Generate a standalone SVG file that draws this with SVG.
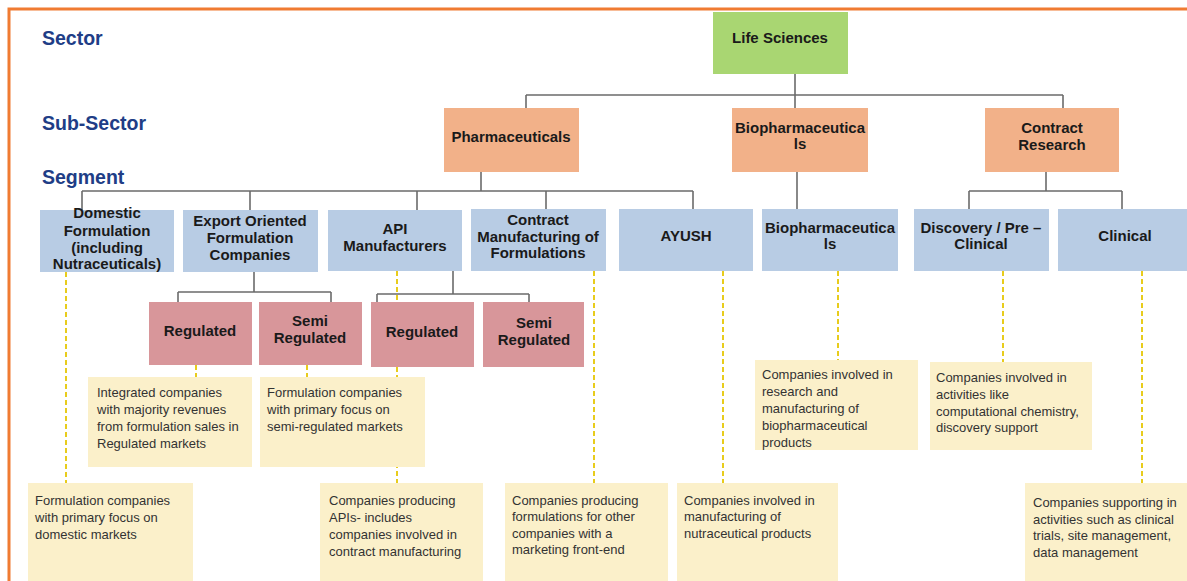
<svg xmlns="http://www.w3.org/2000/svg" width="1187" height="581" viewBox="0 0 1187 581">
<style>
.lbl{font-family:"Liberation Sans",Arial,sans-serif;font-weight:bold;font-size:19.5px;fill:#203D86}
.t{font-family:"Liberation Sans",Arial,sans-serif;font-weight:bold;font-size:15px;fill:#1a1a1a;text-anchor:middle}
.d{font-family:"Liberation Sans",Arial,sans-serif;font-size:13px;fill:#333}
.g{fill:#A9D672}
.p{fill:#F2B189}
.b{fill:#B8CCE4}
.r{fill:#D8969A}
.y{fill:#FBF0CA}
.ln{fill:none;stroke:#6b6b6b;stroke-width:1.6}
.ds{fill:none;stroke:#E8CC1C;stroke-width:2;stroke-dasharray:5 3}
</style>
<rect width="1187" height="581" fill="#fff"/>
<path d="M9,581 V9 H1187" fill="none" stroke="#F07B32" stroke-width="3"/>
<g id="labels">
<text class="lbl" x="42" y="45">Sector</text>
<text class="lbl" x="42" y="130">Sub-Sector</text>
<text class="lbl" x="42" y="184">Segment</text>
</g>
<g id="connectors">
<path class="ln" d="M795,74 V108 M526,95 H1063 M526,95 V108 M1063,95 V108"/>
<path class="ln" d="M481,172 V191 M82,191 H693 M82,191 V210 M250,191 V210 M417,191 V210 M546,191 V209 M693,191 V209"/>
<path class="ln" d="M797,172 V209"/>
<path class="ln" d="M1046,172 V191 M969,191 H1122 M969,191 V209 M1122,191 V209"/>
<path class="ln" d="M254,272 V292 M178,292 H331 M178,292 V302 M331,292 V302"/>
<path class="ln" d="M453,271 V294 M377,294 H529 M377,294 V302 M529,294 V302"/>
<path class="ds" d="M66,272 V483 M196,365 V377 M307,365 V377 M397,271 V483 M594,271 V483 M723,271 V483 M838,271 V360 M1003,271 V362 M1142,271 V483"/>
</g>
<g id="life-sciences"><rect class="g" x="713" y="12" width="135" height="62"/><text class="t" x="780" y="43">Life Sciences</text></g>
<g id="pharmaceuticals"><rect class="p" x="444" y="108" width="135" height="64"/><text class="t" x="511" y="142">Pharmaceuticals</text></g>
<g id="biopharmaceuticals-sub"><rect class="p" x="732" y="108" width="136" height="64"/><text class="t" x="800" y="133">Biopharmaceutica</text><text class="t" x="800" y="149">ls</text></g>
<g id="contract-research"><rect class="p" x="985" y="108" width="134" height="64"/><text class="t" x="1052" y="133">Contract</text><text class="t" x="1052" y="150">Research</text></g>
<g id="domestic"><rect class="b" x="40" y="210" width="134" height="62"/><text class="t" x="107" y="218">Domestic</text><text class="t" x="107" y="236">Formulation</text><text class="t" x="107" y="253">(including</text><text class="t" x="107" y="269">Nutraceuticals)</text></g>
<g id="export"><rect class="b" x="183" y="210" width="135" height="62"/><text class="t" x="250" y="226">Export Oriented</text><text class="t" x="250" y="243">Formulation</text><text class="t" x="250" y="260">Companies</text></g>
<g id="api"><rect class="b" x="328" y="210" width="134" height="61"/><text class="t" x="395" y="234">API</text><text class="t" x="395" y="251">Manufacturers</text></g>
<g id="contract-mfg"><rect class="b" x="471" y="209" width="135" height="62"/><text class="t" x="538" y="225">Contract</text><text class="t" x="538" y="242">Manufacturing of</text><text class="t" x="538" y="258">Formulations</text></g>
<g id="ayush"><rect class="b" x="619" y="209" width="134" height="62"/><text class="t" x="686" y="241">AYUSH</text></g>
<g id="biopharmaceuticals-seg"><rect class="b" x="762" y="209" width="136" height="62"/><text class="t" x="830" y="233">Biopharmaceutica</text><text class="t" x="830" y="249">ls</text></g>
<g id="discovery"><rect class="b" x="914" y="209" width="135" height="62"/><text class="t" x="981" y="233">Discovery / Pre –</text><text class="t" x="981" y="249">Clinical</text></g>
<g id="clinical"><rect class="b" x="1058" y="209" width="135" height="62"/><text class="t" x="1125" y="241">Clinical</text></g>
<g id="regulated-1"><rect class="r" x="149" y="302" width="103" height="63"/><text class="t" x="200" y="336">Regulated</text></g>
<g id="semi-regulated-1"><rect class="r" x="259" y="302" width="103" height="63"/><text class="t" x="310" y="326">Semi</text><text class="t" x="310" y="343">Regulated</text></g>
<g id="regulated-2"><rect class="r" x="371" y="302" width="103" height="65"/><text class="t" x="422" y="337">Regulated</text></g>
<g id="semi-regulated-2"><rect class="r" x="483" y="302" width="101" height="65"/><text class="t" x="534" y="328">Semi</text><text class="t" x="534" y="345">Regulated</text></g>
<g id="desc-regulated"><rect class="y" x="88" y="377" width="164" height="90"/><text class="d" x="97" y="397">Integrated companies</text><text class="d" x="97" y="414">with majority revenues</text><text class="d" x="97" y="431">from formulation sales in</text><text class="d" x="97" y="448">Regulated markets</text></g>
<g id="desc-semi"><rect class="y" x="260" y="377" width="165" height="90"/><text class="d" x="267" y="397">Formulation companies</text><text class="d" x="267" y="414">with primary focus on</text><text class="d" x="267" y="431">semi-regulated markets</text></g>
<g id="desc-domestic"><rect class="y" x="28" y="483" width="165" height="100"/><text class="d" x="35" y="505">Formulation companies</text><text class="d" x="35" y="522">with primary focus on</text><text class="d" x="35" y="539">domestic markets</text></g>
<g id="desc-api"><rect class="y" x="320" y="483" width="163" height="100"/><text class="d" x="329" y="505">Companies producing</text><text class="d" x="329" y="522">APIs- includes</text><text class="d" x="329" y="539">companies involved in</text><text class="d" x="329" y="556">contract manufacturing</text></g>
<g id="desc-contract-mfg"><rect class="y" x="505" y="483" width="163" height="100"/><text class="d" x="512" y="505">Companies producing</text><text class="d" x="512" y="521">formulations for other</text><text class="d" x="512" y="538">companies with a</text><text class="d" x="512" y="554">marketing front-end</text></g>
<g id="desc-ayush"><rect class="y" x="677" y="483" width="161" height="100"/><text class="d" x="684" y="505">Companies involved in</text><text class="d" x="684" y="521">manufacturing of</text><text class="d" x="684" y="538">nutraceutical products</text></g>
<g id="desc-biopharma"><rect class="y" x="755" y="360" width="163" height="90"/><text class="d" x="762" y="379">Companies involved in</text><text class="d" x="762" y="396">research and</text><text class="d" x="762" y="413">manufacturing of</text><text class="d" x="762" y="430">biopharmaceutical</text><text class="d" x="762" y="447">products</text></g>
<g id="desc-discovery"><rect class="y" x="930" y="362" width="162" height="88"/><text class="d" x="936" y="382">Companies involved in</text><text class="d" x="936" y="399">activities like</text><text class="d" x="936" y="416">computational chemistry,</text><text class="d" x="936" y="432">discovery support</text></g>
<g id="desc-clinical"><rect class="y" x="1025" y="483" width="170" height="100"/><text class="d" x="1033" y="507">Companies supporting in</text><text class="d" x="1033" y="524">activities such as clinical</text><text class="d" x="1033" y="540">trials, site management,</text><text class="d" x="1033" y="557">data management</text></g>
</svg>
